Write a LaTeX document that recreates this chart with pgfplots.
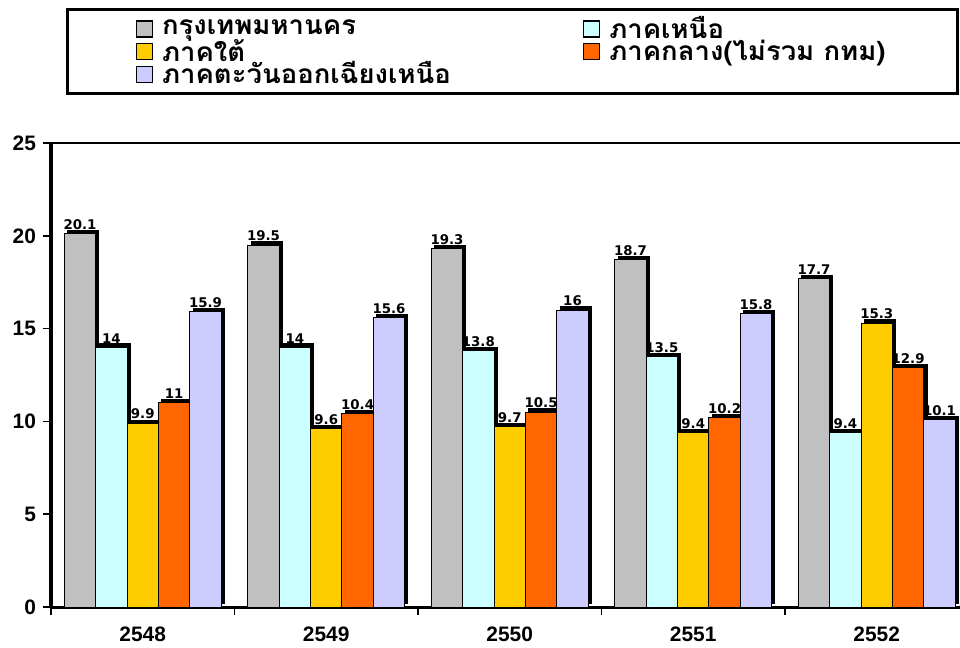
\documentclass[border=0pt]{standalone}
\usepackage{fontspec}
\usepackage{pgfplots}
\pgfplotsset{compat=1.18}
\setmainfont{DejaVu Sans}
\newfontfamily\tickfont{Liberation Sans}
\newfontfamily\thaifont[Script=Thai, FakeStretch=1.045]{Loma}
\definecolor{cA}{HTML}{C0C0C0}
\definecolor{cB}{HTML}{CCFFFF}
\definecolor{cC}{HTML}{FFCC00}
\definecolor{cD}{HTML}{FF6600}
\definecolor{cE}{HTML}{CCCCFF}
\def\shadowcol{black}
\begin{document}
\begin{tikzpicture}
\path[use as bounding box] (0,0) rectangle (480bp,324bp);
\begin{axis}[
  at={(25.5bp,20.5bp)}, anchor=south west,
  scale only axis, width=458.75bp, height=232bp,
  ybar=0pt, bar width=0.171,
  xmin=-0.5, xmax=4.5, ymin=0, ymax=25,
  xtick={-0.5,0.5,...,4.5}, x tick label as interval,
  xticklabels={2548,2549,2550,2551,2552},
  ytick={0,5,...,25},
  axis x line*=bottom, axis y line*=left,
  x axis line style={line width=1.5bp},
  y axis line style={line width=2bp},
  tick align=outside, major tick length=4bp,
  tick style={black, line width=0.8bp},
  /pgf/number format/assume math mode=true,
  ticklabel style={font=\tickfont\bfseries\fontsize{10.5}{12}\selectfont},
  xticklabel style={yshift=-2.5bp},
  clip=false,
  nodes near coords,
  every node near coord/.append style={font=\bfseries\fontsize{6.7}{7}\selectfont, inner sep=0.6bp, yshift=1.2bp},
  shadowbar/.style={draw=black, line width=0.5bp, preaction={fill=\shadowcol, draw=\shadowcol, transform canvas={shift={(1.6bp,1.6bp)}}}},
  legend columns=2,
  legend style={at={(0.0165,1.291)}, anchor=north west, draw=black, line width=1.5bp,
    inner xsep=34bp, inner ysep=1.5bp,
    font=\thaifont\bfseries\fontsize{13.2}{13}\selectfont,
    cells={anchor=west}, row sep=-5.2bp,
    /tikz/every odd column/.append style={column sep=2.5bp},
    /tikz/every even column/.append style={column sep=64bp}},
  legend image code/.code={\def\shadowcol{none}\draw[#1, line width=0.7bp] (0bp,-4bp) rectangle (8bp,4bp);},
]
\addplot[fill=cA, shadowbar] coordinates {(0,20.1) (1,19.5) (2,19.3) (3,18.7) (4,17.7)};
\addplot[fill=cB, shadowbar] coordinates {(0,14) (1,14) (2,13.8) (3,13.5) (4,9.4)};
\addplot[fill=cC, shadowbar] coordinates {(0,9.9) (1,9.6) (2,9.7) (3,9.4) (4,15.3)};
\addplot[fill=cD, shadowbar] coordinates {(0,11) (1,10.4) (2,10.5) (3,10.2) (4,12.9)};
\addplot[fill=cE, shadowbar] coordinates {(0,15.9) (1,15.6) (2,16) (3,15.8) (4,10.1)};
\legend{กรุงเทพมหานคร, ภาคเหนือ, ภาคใต้, ภาคกลาง(ไม่รวม กทม), ภาคตะวันออกเฉียงเหนือ}
\draw[line width=1bp] (rel axis cs:0,1) -- (rel axis cs:1,1);
\end{axis}
\end{tikzpicture}
\end{document}
